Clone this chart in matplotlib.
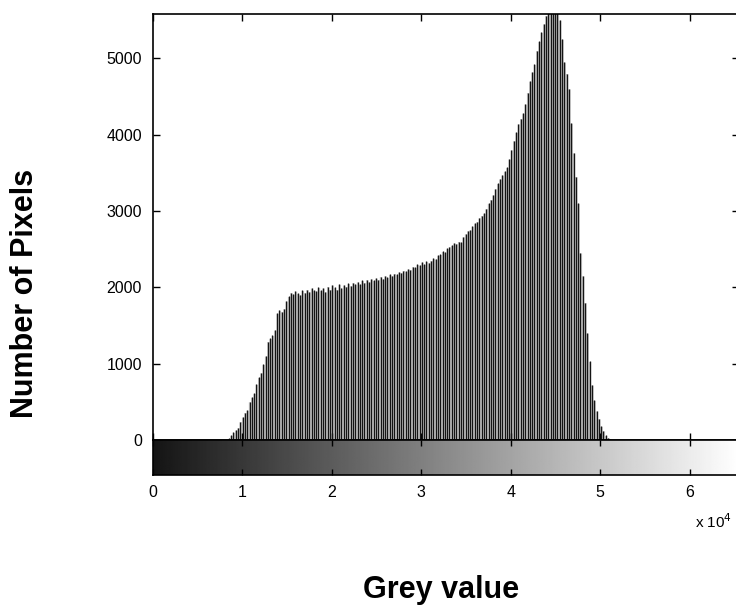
import numpy as np
import matplotlib
matplotlib.use('Agg')
import matplotlib.pyplot as plt

plt.rcParams['font.family'] = ['Liberation Sans', 'DejaVu Sans']

# histogram: 256 bins over 0..65535, first non-empty bin index 33
first_bin = 33
counts = [
    20, 60, 100, 130, 160, 240, 300, 360, 390, 500,
    560, 610, 730, 820, 880, 990, 1100, 1290, 1330, 1370,
    1440, 1660, 1700, 1680, 1720, 1820, 1880, 1930, 1910, 1950,
    1920, 1900, 1960, 1930, 1970, 1940, 1990, 1960, 1950, 2000,
    1960, 1990, 1940, 2010, 1970, 2030, 2000, 1970, 2040, 1990,
    2030, 2010, 2050, 2020, 2060, 2040, 2070, 2040, 2090, 2060,
    2100, 2070, 2110, 2090, 2120, 2100, 2140, 2110, 2150, 2130,
    2170, 2150, 2180, 2170, 2200, 2190, 2220, 2210, 2240, 2230,
    2270, 2260, 2300, 2290, 2330, 2300, 2340, 2320, 2350, 2380,
    2370, 2420, 2430, 2470, 2460, 2510, 2530, 2550, 2580, 2570,
    2600, 2590, 2660, 2700, 2740, 2750, 2800, 2840, 2860, 2910,
    2940, 2970, 3030, 3100, 3150, 3210, 3290, 3360, 3420, 3470,
    3520, 3570, 3680, 3800, 3920, 4030, 4140, 4210, 4280, 4400,
    4550, 4700, 4820, 4920, 5100, 5220, 5340, 5450, 5560, 5650,
    5750, 5800, 5780, 5700, 5500, 5250, 4950, 4800, 4600, 4150,
    3760, 3450, 3100, 2450, 2150, 1800, 1400, 1030, 720, 520,
    380, 280, 180, 120, 60, 30, 10,
]
y_ticks = [0, 1000, 2000, 3000, 4000, 5000]
x_ticks = [0, 10000, 20000, 30000, 40000, 50000, 60000]
x_labels = ['0', '1', '2', '3', '4', '5', '6']

n_bins = 256
x_max = 65535
centers = np.linspace(0, x_max, n_bins)
hist = np.zeros(n_bins)
hist[first_bin:first_bin + len(counts)] = counts

fig = plt.figure(figsize=(7.36, 6.10), dpi=100)
W, H = 736, 610

def box(l, t, r, b):
    return [l / W, (H - b) / H, (r - l) / W, (b - t) / H]

ax = fig.add_axes(box(153, 14, 739, 440))
cb = fig.add_axes(box(153, 440, 739, 475))

ax.fill_between(centers, hist, step='mid', color='#bcbcbc', lw=0)
ax.vlines(centers, 0, hist, color='#151515', lw=0.9)
ax.set_xlim(0, x_max)
ax.set_ylim(0, 5580)
ax.set_yticks(y_ticks)
ax.set_xticks(x_ticks)
ax.tick_params(direction='in', length=5, width=1, labelsize=11.5,
               top=True, right=True, labelbottom=False, pad=8)
for s in ax.spines.values():
    s.set_linewidth(1.2)

grad = np.linspace(0.08, 1, 512).reshape(1, -1)
cb.imshow(grad, cmap='gray', aspect='auto', extent=[0, x_max, 0, 1],
          vmin=0, vmax=1)
cb.set_xlim(0, x_max)
cb.set_yticks([])
cb.set_xticks(x_ticks)
cb.set_xticklabels(x_labels)
cb.tick_params(direction='in', length=4, width=1, labelsize=11.5,
               top=True, pad=7)
for s in cb.spines.values():
    s.set_linewidth(1.2)

fig.text(732 / W, (H - 522) / H, 'x 10$^4$', fontsize=11, va='center',
         ha='right')
fig.text(25 / W, (H - 293) / H, 'Number of Pixels', rotation=90,
         fontsize=22, fontweight='bold', ha='center', va='center')
fig.text(441 / W, (H - 590) / H, 'Grey value', fontsize=22,
         fontweight='bold', ha='center', va='center')

fig.savefig('out.png', dpi=100)
